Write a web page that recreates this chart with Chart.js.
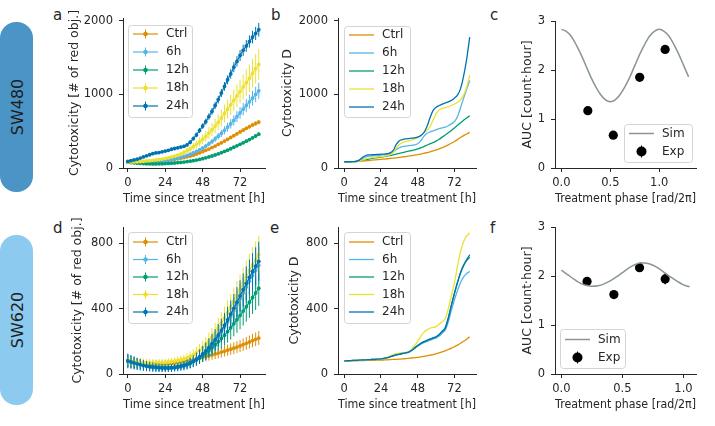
<!DOCTYPE html>
<html>
<head>
<meta charset="utf-8">
<script src="https://cdn.jsdelivr.net/npm/chart.js@4.4.1/dist/chart.umd.min.js"></script>
<style>
  body{margin:0;background:#fff;font-family:'DejaVu Sans',sans-serif;color:#262626;}
  .fig{position:relative;width:715px;height:426px;overflow:hidden;}
  .fig canvas{position:absolute;}
  .cell{position:absolute;left:0;width:33px;height:170px;border-radius:16px;}
  .cell span{position:absolute;left:50%;top:50%;transform:translate(-50%,-50%) rotate(-90deg);font-size:16px;white-space:nowrap;color:#1e1e1e;}
  .tag{position:absolute;font-size:15px;line-height:1;}
</style>
</head>
<body>
<div class="fig">
  <div class="cell" style="top:22px;background:#4a94c6"><span>SW480</span></div>
  <div class="cell" style="top:235px;background:#8dcaf0"><span>SW620</span></div>
  <div class="tag" style="left:53px;top:8px">a</div>
  <div class="tag" style="left:271px;top:8px">b</div>
  <div class="tag" style="left:490px;top:8px">c</div>
  <div class="tag" style="left:53px;top:221px">d</div>
  <div class="tag" style="left:270px;top:221px">e</div>
  <div class="tag" style="left:490px;top:221px">f</div>
  <canvas id="pa"></canvas>
  <canvas id="pb"></canvas>
  <canvas id="pc"></canvas>
  <canvas id="pd"></canvas>
  <canvas id="pe"></canvas>
  <canvas id="pf"></canvas>
</div>
<script>
// ---- data ----
const seriesNames = ['Ctrl', '6h', '12h', '18h', '24h'];

const hoursExp = [0,2,4,6,8,10,12,14,16,18,20,22,24,26,28,30,32,34,36,38,40,42,44,46,48,50,52,54,56,58,60,62,64,66,68,70,72,74,76,78,80,82,84];
const hoursSim = [0,2,4,6,8,10,12,14,16,18,20,22,24,26,28,30,32,34,36,38,40,42,44,46,48,50,52,54,56,58,60,62,64,66,68,70,72,74,76,78,80,82];

// SW480 measured counts (rows: Ctrl, 6h, 12h, 18h, 24h)
const sw480Mean = [
  [80,78,76,75,75,76,78,80,83,86,90,95,100,106,112,118,125,133,142,152,163,175,190,205,222,240,258,278,298,320,342,366,390,415,440,465,490,515,540,562,585,605,625],
  [80,78,76,75,75,76,78,80,84,88,92,98,104,110,118,126,135,146,158,172,188,205,225,247,270,298,328,360,395,432,470,512,556,600,648,698,748,800,850,900,950,1000,1050],
  [80,74,70,66,63,60,58,57,56,56,57,58,60,62,65,68,72,76,81,87,93,100,108,117,127,138,150,163,177,192,208,225,243,262,282,302,322,343,365,387,410,435,460],
  [80,80,82,85,88,92,96,100,105,110,115,122,130,138,148,160,175,190,210,235,260,290,320,355,390,430,475,520,570,620,680,740,800,860,920,980,1040,1100,1160,1220,1290,1350,1410],
  [90,100,110,120,135,150,165,180,195,205,210,220,230,240,255,265,275,285,295,315,350,400,450,510,570,630,700,770,850,930,1020,1110,1200,1280,1370,1450,1530,1600,1660,1720,1780,1830,1880]
];
const sw480Err = [
  [5,5,5,5,5,5,5,5,6,6,6,6,7,7,7,8,8,8,9,9,10,10,11,12,12,13,14,15,16,17,18,19,20,21,22,23,24,25,26,27,28,29,30],
  [5,5,5,5,5,5,5,6,6,6,7,7,8,8,9,10,11,12,13,15,17,19,21,24,27,30,33,37,41,45,50,55,60,65,70,75,80,85,90,95,100,105,110],
  [4,4,4,4,4,4,4,4,4,4,4,4,4,5,5,5,5,6,6,6,7,7,8,8,9,9,10,11,11,12,13,14,15,16,17,18,19,20,21,22,23,24,25],
  [8,8,8,9,9,10,10,11,12,13,14,15,17,19,21,24,27,31,35,40,45,50,56,62,68,75,82,90,98,106,114,122,130,138,146,154,162,170,178,186,194,202,210],
  [8,8,9,9,10,10,11,12,13,14,15,16,17,18,19,20,21,22,24,26,28,30,32,35,38,41,44,47,50,53,56,59,62,65,68,71,74,77,80,83,86,89,92]
];

// SW620 measured counts
const sw620Mean = [
  [80,76,72,69,66,64,62,61,60,60,60,61,62,63,65,67,70,73,76,80,84,88,92,97,102,107,112,117,122,128,134,140,146,152,158,165,172,180,188,196,204,212,220],
  [80,74,68,62,57,52,48,45,42,40,38,37,36,36,37,39,42,46,51,58,66,76,88,102,118,136,156,178,202,228,256,286,318,352,388,424,460,496,532,568,602,634,665],
  [80,75,70,65,60,56,52,49,46,44,42,41,40,40,41,43,46,50,55,61,68,76,86,98,112,127,143,160,178,197,217,238,260,283,307,332,358,385,412,440,468,496,525],
  [80,77,74,72,70,69,68,68,68,68,69,70,72,74,77,80,84,88,93,99,108,118,130,144,160,180,202,226,252,280,310,342,376,410,446,482,518,556,594,632,668,700,730],
  [80,74,68,62,57,52,48,45,42,40,38,37,36,36,37,39,42,46,51,58,67,78,91,106,123,142,163,186,211,238,267,298,331,366,402,440,478,516,554,592,628,660,690]
];
const sw620Err = [
  [35,33,31,30,28,27,26,25,24,24,23,23,23,23,23,23,24,24,25,25,26,26,27,28,28,29,30,30,31,32,33,33,34,35,36,36,37,38,39,40,41,42,43],
  [40,38,36,34,32,30,28,27,26,25,24,23,22,22,22,22,23,24,26,28,30,33,36,40,44,48,52,56,60,64,68,72,76,80,84,88,92,96,100,104,108,112,116],
  [38,36,34,32,30,28,27,26,25,24,23,22,21,21,21,21,22,23,24,26,28,30,33,36,39,42,45,48,52,56,60,64,68,72,76,80,84,88,92,96,100,104,108],
  [30,29,28,27,26,25,24,23,23,22,22,22,22,22,22,23,24,25,27,29,31,34,37,40,44,48,52,56,60,64,68,72,76,80,84,88,92,96,100,104,108,112,116],
  [45,42,40,37,35,33,31,29,28,27,26,25,24,24,24,24,25,26,28,30,33,36,40,44,48,52,56,60,64,68,72,76,80,84,88,92,96,100,104,108,112,116,120]
];

// simulated cytotoxicity D
const sw480Sim = [
  [85,85,86,87,89,92,95,98,102,106,110,114,118,122,126,130,134,139,144,150,156,162,168,175,182,190,199,209,220,232,245,260,276,294,314,336,360,386,414,440,462,485],
  [85,85,85,86,90,105,130,150,160,165,168,172,175,180,185,190,215,250,275,290,298,303,308,315,330,370,430,470,490,505,520,535,545,555,575,600,630,700,820,950,1070,1190],
  [85,85,86,88,92,98,106,114,122,130,137,143,149,155,162,170,178,188,198,208,218,228,238,248,260,275,292,310,328,345,365,390,420,450,480,510,545,580,615,650,680,710],
  [85,85,85,85,87,95,110,125,135,140,145,150,155,160,168,180,210,270,320,345,360,370,380,395,415,445,480,510,560,650,740,790,810,820,835,850,870,890,930,990,1100,1260],
  [85,85,85,86,90,110,145,170,178,180,182,185,188,190,195,205,240,320,370,385,395,400,405,410,420,440,480,560,680,780,825,850,870,885,900,920,950,990,1080,1250,1480,1780]
];
const sw620Sim = [
  [80,80,80,81,81,82,82,83,83,84,84,85,85,86,87,88,89,90,91,92,94,96,98,100,102,105,108,111,115,119,124,129,135,142,150,158,167,177,188,200,213,228],
  [80,81,82,83,84,85,86,87,88,89,90,91,92,95,100,105,110,116,120,124,128,132,142,156,170,182,192,200,207,214,220,232,250,270,320,390,455,510,560,595,615,628],
  [80,81,82,83,84,85,86,87,88,89,90,91,92,95,100,106,112,118,122,126,130,134,146,160,174,186,196,204,212,220,228,242,262,285,345,420,490,560,620,665,695,715],
  [80,81,82,83,84,85,86,87,88,89,90,91,92,96,102,110,118,124,128,130,132,136,150,175,200,230,255,270,280,285,290,305,320,340,400,480,560,660,750,810,845,865],
  [80,81,82,83,84,85,86,87,88,89,90,91,92,95,100,106,112,118,122,126,130,134,145,160,175,188,198,206,214,221,228,240,260,280,340,420,495,560,620,665,700,730]
];

// AUC against treatment phase
const phaseSim480 = [0,0.05,0.1,0.15,0.2,0.25,0.3,0.35,0.4,0.45,0.5,0.55,0.6,0.65,0.7,0.75,0.8,0.85,0.9,0.95,1.0,1.05,1.1,1.15,1.2,1.25,1.3];
const aucSim480 = [2.83,2.79,2.69,2.52,2.32,2.09,1.86,1.66,1.50,1.39,1.35,1.39,1.50,1.66,1.86,2.09,2.32,2.52,2.69,2.79,2.83,2.79,2.69,2.52,2.32,2.09,1.86];
const phaseExp480 = [0.27,0.53,0.80,1.06];
const aucExp480 = [1.17,0.67,1.85,2.42];
const aucErr480 = [0.04,0.04,0.04,0.05];

const phaseSim620 = [0,0.05,0.1,0.15,0.2,0.25,0.3,0.35,0.4,0.45,0.5,0.55,0.6,0.65,0.7,0.75,0.8,0.85,0.9,0.95,1.0,1.05];
const aucSim620 = [2.12,2.03,1.94,1.86,1.81,1.79,1.80,1.84,1.90,1.98,2.07,2.16,2.23,2.27,2.26,2.22,2.15,2.06,1.97,1.89,1.82,1.78];
const phaseExp620 = [0.21,0.43,0.64,0.85];
const aucExp620 = [1.89,1.62,2.17,1.94];
const aucErr620 = [0.05,0.04,0.05,0.11];

// tick labels
const hourTicks = [0, 24, 48, 72];
const countTicks480 = [0, 1000, 2000];
const countTicks620 = [0, 400, 800];
const aucTicks = [0, 1, 2, 3];
const phaseTicks = [0, 0.5, 1];

// ---- look ----
const ink = '#262626';
const font = "'DejaVu Sans', sans-serif";
const seriesColors = ['#de8f05', '#56b4e9', '#029e73', '#ece133', '#0173b2'];
const simGray = '#8b9595';

// vertical error bars, drawn under each dataset's line
const errorBars = {
  id: 'errorBars',
  beforeDatasetDraw(chart, args) {
    const ds = chart.data.datasets[args.index];
    if (!ds.errors) return;
    const ctx = chart.ctx, y = chart.scales.y;
    ctx.save();
    ctx.strokeStyle = ds.borderColor;
    ctx.lineWidth = ds.errWidth || 1;
    ctx.beginPath();
    args.meta.data.forEach((el, i) => {
      const v = ds.data[i].y, e = ds.errors[i];
      ctx.moveTo(el.x, y.getPixelForValue(v - e));
      ctx.lineTo(el.x, y.getPixelForValue(v + e));
    });
    ctx.stroke();
    ctx.restore();
  }
};

// matplotlib-like framed legend inside the plot
const boxLegend = {
  id: 'boxLegend',
  afterDraw(chart, args, o) {
    if (!o || o.w === undefined) return;
    const ctx = chart.ctx, ca = chart.chartArea;
    const x = o.right !== undefined ? ca.right - o.right - o.w : ca.left + o.left;
    const y = o.bottom !== undefined ? ca.bottom - o.bottom - o.h : ca.top + o.top;
    ctx.save();
    ctx.beginPath();
    if (ctx.roundRect) ctx.roundRect(x + 0.5, y + 0.5, o.w, o.h, 3);
    else ctx.rect(x + 0.5, y + 0.5, o.w, o.h);
    ctx.fillStyle = 'rgba(255,255,255,0.85)';
    ctx.fill();
    ctx.strokeStyle = '#d4d4d4';
    ctx.lineWidth = 1;
    ctx.stroke();
    ctx.font = '12px ' + font;
    ctx.textBaseline = 'middle';
    chart.data.datasets.forEach((ds, i) => {
      const cy = y + o.first + i * o.step;
      const x0 = x + 5, x1 = x0 + 25, xm = (x0 + x1) / 2;
      ctx.strokeStyle = ds.borderColor;
      ctx.fillStyle = ds.borderColor;
      if (ds.legendKind !== 'dot') {
        ctx.lineWidth = ds.borderWidth;
        ctx.beginPath(); ctx.moveTo(x0, cy); ctx.lineTo(x1, cy); ctx.stroke();
      }
      if (ds.legendKind === 'err' || ds.legendKind === 'dot') {
        const r = ds.pointRadius + 0.4, h = ds.legendKind === 'dot' ? 6 : 4.5;
        ctx.lineWidth = 1;
        ctx.beginPath(); ctx.moveTo(xm, cy - h); ctx.lineTo(xm, cy + h); ctx.stroke();
        ctx.beginPath(); ctx.arc(xm, cy, r, 0, Math.PI * 2); ctx.fill();
      }
      ctx.fillStyle = ink;
      ctx.fillText(ds.label, x1 + 8, cy);
    });
    ctx.restore();
  }
};

function pts(xs, ys) {
  return ys.map((y, i) => ({x: xs[i], y: y}));
}

function axis(o) {
  const horizontal = o.dir === 'x';
  return {
    type: 'linear', min: o.min, max: o.max,
    afterBuildTicks: s => { s.ticks = o.ticks.map(v => ({value: v})); },
    afterFit: s => { if (horizontal) s.height = o.size; else s.width = o.size; },
    border: {color: ink, width: 1},
    grid: {drawOnChartArea: false, color: ink, tickLength: 4, tickWidth: 1},
    ticks: {
      color: ink, font: {family: font, size: 11.5}, padding: horizontal ? 4 : 6,
      autoSkip: false, maxRotation: 0, callback: o.fmt || (v => String(v))
    },
    title: {
      display: true, text: o.title, color: ink, font: {family: font, size: 12.5},
      padding: horizontal ? {top: 0, bottom: o.titlePad} : {top: o.titlePad, bottom: 0}
    }
  };
}

function panel(id, box, datasets, xs, ys, legend) {
  const cv = document.getElementById(id);
  cv.style.left = box.left + 'px';
  cv.style.top = box.top + 'px';
  cv.width = box.w;
  cv.height = box.h;
  return new Chart(cv, {
    type: 'line',
    data: {datasets: datasets},
    options: {
      animation: false, responsive: false, devicePixelRatio: 1, events: [],
      layout: {padding: box.pad},
      plugins: {legend: {display: false}, tooltip: {enabled: false}, boxLegend: legend},
      scales: {x: xs, y: ys}
    },
    plugins: [errorBars, boxLegend]
  });
}

function expSets(means, errs) {
  return seriesNames.map((name, i) => ({
    label: name, data: pts(hoursExp, means[i]), errors: errs[i],
    borderColor: seriesColors[i], backgroundColor: seriesColors[i],
    borderWidth: 1.2, pointRadius: 1.9, pointBorderWidth: 0,
    order: 4 - i, legendKind: 'err'
  }));
}

function simSets(curves) {
  return seriesNames.map((name, i) => ({
    label: name, data: pts(hoursSim, curves[i]),
    borderColor: seriesColors[i], backgroundColor: seriesColors[i],
    borderWidth: 1.3, pointRadius: 0, cubicInterpolationMode: 'monotone',
    order: 4 - i, legendKind: 'line'
  }));
}

function aucSets(px, py, ex, ey, ee) {
  return [
    {label: 'Sim', data: pts(px, py), borderColor: simGray, backgroundColor: simGray,
     borderWidth: 1.5, pointRadius: 0, cubicInterpolationMode: 'monotone', legendKind: 'line'},
    {label: 'Exp', data: pts(ex, ey), errors: ee, errWidth: 1.5, showLine: false,
     borderColor: '#000', backgroundColor: '#000', pointRadius: 4.6, pointBorderWidth: 0, legendKind: 'dot'}
  ];
}

const timeTitle = 'Time since treatment [h]';
const phaseTitle = 'Treatment phase [rad/2\u03c0]';
const fmtPhase = v => v.toFixed(1);

// a
panel('pa', {left: 40, top: 0, w: 230, h: 215, pad: {top: 18, right: 5, bottom: 0, left: 0}},
  expSets(sw480Mean, sw480Err),
  axis({dir: 'x', min: -3.1, max: 88, ticks: hourTicks, size: 47, title: timeTitle, titlePad: 8.5}),
  axis({dir: 'y', min: 0, max: 2040, ticks: countTicks480, size: 83, title: 'Cytotoxicity [# of red obj.]', titlePad: 27.5}),
  {left: 5, top: 7, w: 64, h: 92, first: 9, step: 18});

// b
panel('pb', {left: 255, top: 0, w: 225, h: 215, pad: {top: 18, right: 4, bottom: 0, left: 0}},
  simSets(sw480Sim),
  axis({dir: 'x', min: -4.1, max: 86.1, ticks: hourTicks, size: 47, title: timeTitle, titlePad: 8.5}),
  axis({dir: 'y', min: 0, max: 2040, ticks: countTicks480, size: 83, title: 'Cytotoxicity D', titlePad: 25.5}),
  {left: 6, top: 8, w: 66, h: 91, first: 9, step: 18});

// c
panel('pc', {left: 475, top: 0, w: 240, h: 215, pad: {top: 21, right: 19, bottom: 0, left: 0}},
  aucSets(phaseSim480, aucSim480, phaseExp480, aucExp480, aucErr480),
  axis({dir: 'x', min: -0.0655, max: 1.3755, ticks: phaseTicks, size: 47, title: phaseTitle, titlePad: 8.5, fmt: fmtPhase}),
  axis({dir: 'y', min: 0, max: 3, ticks: aucTicks, size: 80, title: 'AUC [count\u00b7hour]', titlePad: 45.5}),
  {right: 4, bottom: 6, w: 68, h: 38, first: 9.5, step: 18});

// d
panel('pd', {left: 40, top: 210, w: 230, h: 216, pad: {top: 17, right: 5, bottom: 0, left: 0}},
  expSets(sw620Mean, sw620Err),
  axis({dir: 'x', min: -3.1, max: 88, ticks: hourTicks, size: 52, title: timeTitle, titlePad: 13.8}),
  axis({dir: 'y', min: 0, max: 900, ticks: countTicks620, size: 83, title: 'Cytotoxicity [# of red obj.]', titlePad: 30.5}),
  {left: 5, top: 5, w: 64, h: 91, first: 10, step: 17.5});

// e
panel('pe', {left: 255, top: 210, w: 225, h: 216, pad: {top: 17, right: 4, bottom: 0, left: 0}},
  simSets(sw620Sim),
  axis({dir: 'x', min: -4.1, max: 86.1, ticks: hourTicks, size: 52, title: timeTitle, titlePad: 13.8}),
  axis({dir: 'y', min: 0, max: 900, ticks: countTicks620, size: 83, title: 'Cytotoxicity D', titlePad: 32.5}),
  {left: 6, top: 5, w: 66, h: 91, first: 10, step: 17.5});

// f
panel('pf', {left: 475, top: 210, w: 240, h: 216, pad: {top: 17, right: 19, bottom: 0, left: 0}},
  aucSets(phaseSim620, aucSim620, phaseExp620, aucExp620, aucErr620),
  axis({dir: 'x', min: -0.0525, max: 1.1025, ticks: phaseTicks, size: 52, title: phaseTitle, titlePad: 13.8, fmt: fmtPhase}),
  axis({dir: 'y', min: 0, max: 3, ticks: aucTicks, size: 80, title: 'AUC [count\u00b7hour]', titlePad: 45.5}),
  {left: 5, bottom: 6, w: 65, h: 39, first: 10.5, step: 18});
</script>
</body>
</html>
